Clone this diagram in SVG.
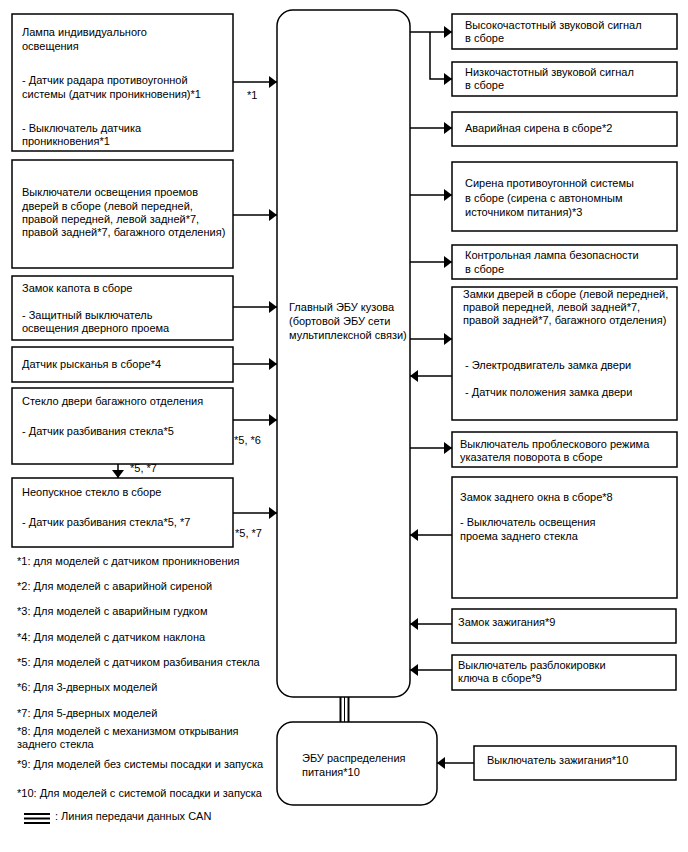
<svg xmlns="http://www.w3.org/2000/svg" width="688" height="852" viewBox="0 0 688 852">
<defs>
<style>
text{font-family:"Liberation Sans",Arial,sans-serif;font-size:11px;fill:#000}
.box{fill:#fff;stroke:#000;stroke-width:1.5}
.ln{fill:none;stroke:#000;stroke-width:1.5}
.can{fill:none;stroke:#000}
</style>
<marker id="ah" markerUnits="userSpaceOnUse" markerWidth="8" markerHeight="12" refX="8" refY="6" orient="auto">
<path d="M0,0 L8,6 L0,12 z" fill="#000"/>
</marker>
</defs>
<rect width="688" height="852" fill="#fff"/>

<g id="connectors">
<line class="ln" x1="233" y1="82" x2="277" y2="82" marker-end="url(#ah)"/>
<line class="ln" x1="233" y1="215" x2="277" y2="215" marker-end="url(#ah)"/>
<line class="ln" x1="233" y1="307" x2="277" y2="307" marker-end="url(#ah)"/>
<line class="ln" x1="233" y1="364" x2="277" y2="364" marker-end="url(#ah)"/>
<line class="ln" x1="233" y1="420" x2="277" y2="420" marker-end="url(#ah)"/>
<line class="ln" x1="233" y1="513" x2="277" y2="513" marker-end="url(#ah)"/>
<line class="ln" x1="118" y1="464" x2="118" y2="478" marker-end="url(#ah)"/>
<line class="ln" x1="410" y1="32" x2="452" y2="32" marker-end="url(#ah)"/>
<polyline class="ln" points="430,32 430,79 452,79" marker-end="url(#ah)"/>
<line class="ln" x1="410" y1="128" x2="452" y2="128" marker-end="url(#ah)"/>
<line class="ln" x1="410" y1="195" x2="452" y2="195" marker-end="url(#ah)"/>
<line class="ln" x1="410" y1="262" x2="452" y2="262" marker-end="url(#ah)"/>
<line class="ln" x1="410" y1="339" x2="452" y2="339" marker-end="url(#ah)"/>
<line class="ln" x1="452" y1="376" x2="410" y2="376" marker-end="url(#ah)"/>
<line class="ln" x1="410" y1="448" x2="452" y2="448" marker-end="url(#ah)"/>
<line class="ln" x1="452" y1="535" x2="410" y2="535" marker-end="url(#ah)"/>
<line class="ln" x1="452" y1="624" x2="410" y2="624" marker-end="url(#ah)"/>
<line class="ln" x1="452" y1="670" x2="410" y2="670" marker-end="url(#ah)"/>
<line class="ln" x1="474" y1="763" x2="437" y2="763" marker-end="url(#ah)"/>
<line class="can" x1="340.5" y1="697" x2="340.5" y2="722" stroke-width="2"/>
<line class="can" x1="344.5" y1="697" x2="344.5" y2="722" stroke-width="1"/>
<line class="can" x1="348.5" y1="697" x2="348.5" y2="722" stroke-width="2"/>
<text x="247" y="99">*1</text>
<text x="234" y="444">*5, *6</text>
<text x="130" y="472">*5, *7</text>
<text x="235" y="537">*5, *7</text>
</g>

<g id="main-ecu">
<rect class="box" x="277" y="10" width="133" height="687" rx="16"/>
<text x="289" y="311">Главный ЭБУ кузова</text>
<text x="289" y="325">(бортовой ЭБУ сети</text>
<text x="289" y="339">мультиплексной связи)</text>
</g>

<g id="power-ecu">
<rect class="box" x="277" y="722" width="160" height="83" rx="16"/>
<text x="302" y="762">ЭБУ распределения</text>
<text x="302" y="776">питания*10</text>
</g>

<g id="l1">
<rect class="box" x="12" y="14" width="221" height="137"/>
<text x="22" y="36">Лампа индивидуального</text>
<text x="22" y="50">освещения</text>
<text x="22" y="84">- Датчик радара противоугонной</text>
<text x="22" y="98">системы (датчик проникновения)*1</text>
<text x="22" y="132">- Выключатель датчика</text>
<text x="22" y="145">проникновения*1</text>
</g>

<g id="l2">
<rect class="box" x="12" y="160" width="221" height="108"/>
<text x="22" y="196">Выключатели освещения проемов</text>
<text x="22" y="210">дверей в сборе (левой передней,</text>
<text x="22" y="223">правой передней, левой задней*7,</text>
<text x="22" y="236">правой задней*7, багажного отделения)</text>
</g>

<g id="l3">
<rect class="box" x="12" y="276" width="221" height="64"/>
<text x="22" y="292">Замок капота в сборе</text>
<text x="22" y="319">- Защитный выключатель</text>
<text x="22" y="332">освещения дверного проема</text>
</g>

<g id="l4">
<rect class="box" x="12" y="347" width="221" height="35"/>
<text x="22" y="368">Датчик рысканья в сборе*4</text>
</g>

<g id="l5">
<rect class="box" x="12" y="388" width="221" height="76"/>
<text x="22" y="405">Стекло двери багажного отделения</text>
<text x="22" y="435">- Датчик разбивания стекла*5</text>
</g>

<g id="l6">
<rect class="box" x="12" y="478" width="221" height="69"/>
<text x="22" y="496">Неопускное стекло в сборе</text>
<text x="22" y="526">- Датчик разбивания стекла*5, *7</text>
</g>

<g id="r1">
<rect class="box" x="452" y="14" width="225" height="35"/>
<text x="465" y="29">Высокочастотный звуковой сигнал</text>
<text x="465" y="42">в сборе</text>
</g>

<g id="r2">
<rect class="box" x="452" y="62" width="225" height="34"/>
<text x="465" y="76">Низкочастотный звуковой сигнал</text>
<text x="465" y="89">в сборе</text>
</g>

<g id="r3">
<rect class="box" x="452" y="112" width="225" height="34"/>
<text x="465" y="132">Аварийная сирена в сборе*2</text>
</g>

<g id="r4">
<rect class="box" x="452" y="162" width="225" height="69"/>
<text x="465" y="187">Сирена противоугонной системы</text>
<text x="465" y="202">в сборе (сирена с автономным</text>
<text x="465" y="216">источником питания)*3</text>
</g>

<g id="r5">
<rect class="box" x="452" y="245" width="225" height="34"/>
<text x="465" y="259">Контрольная лампа безопасности</text>
<text x="465" y="273">в сборе</text>
</g>

<g id="r6">
<rect class="box" x="452" y="287" width="225" height="133"/>
<text x="463" y="298">Замки дверей в сборе (левой передней,</text>
<text x="463" y="311">правой передней, левой задней*7,</text>
<text x="463" y="324">правой задней*7, багажного отделения)</text>
<text x="465" y="369">- Электродвигатель замка двери</text>
<text x="465" y="396">- Датчик положения замка двери</text>
</g>

<g id="r7">
<rect class="box" x="452" y="432" width="225" height="35"/>
<text x="460" y="448">Выключатель проблескового режима</text>
<text x="460" y="461">указателя поворота в сборе</text>
</g>

<g id="r8">
<rect class="box" x="452" y="477" width="225" height="121"/>
<text x="460" y="501">Замок заднего окна в сборе*8</text>
<text x="460" y="526">- Выключатель освещения</text>
<text x="460" y="540">проема заднего стекла</text>
</g>

<g id="r9">
<rect class="box" x="452" y="609" width="224" height="34"/>
<text x="458" y="626">Замок зажигания*9</text>
</g>

<g id="r10">
<rect class="box" x="452" y="655" width="224" height="35"/>
<text x="458" y="669">Выключатель разблокировки</text>
<text x="458" y="682">ключа в сборе*9</text>
</g>

<g id="r11">
<rect class="box" x="474" y="746" width="202" height="34"/>
<text x="487" y="764">Выключатель зажигания*10</text>
</g>

<g id="legend">
<text x="17" y="565">*1: для моделей с датчиком проникновения</text>
<text x="17" y="590">*2: Для моделей с аварийной сиреной</text>
<text x="17" y="615">*3: Для моделей с аварийным гудком</text>
<text x="17" y="641">*4: Для моделей с датчиком наклона</text>
<text x="17" y="666">*5: Для моделей с датчиком разбивания стекла</text>
<text x="17" y="691">*6: Для 3-дверных моделей</text>
<text x="17" y="717">*7: Для 5-дверных моделей</text>
<text x="17" y="735">*8: Для моделей с механизмом открывания</text>
<text x="17" y="748">заднего стекла</text>
<text x="17" y="768">*9: Для моделей без системы посадки и запуска</text>
<text x="17" y="797">*10: Для моделей с системой посадки и запуска</text>
<line class="can" x1="24" y1="814" x2="50" y2="814" stroke-width="2"/>
<line class="can" x1="24" y1="818.5" x2="50" y2="818.5" stroke-width="2"/>
<line class="can" x1="24" y1="823" x2="50" y2="823" stroke-width="2"/>
<text x="55" y="820">: Линия передачи данных CAN</text>
</g>
</svg>
